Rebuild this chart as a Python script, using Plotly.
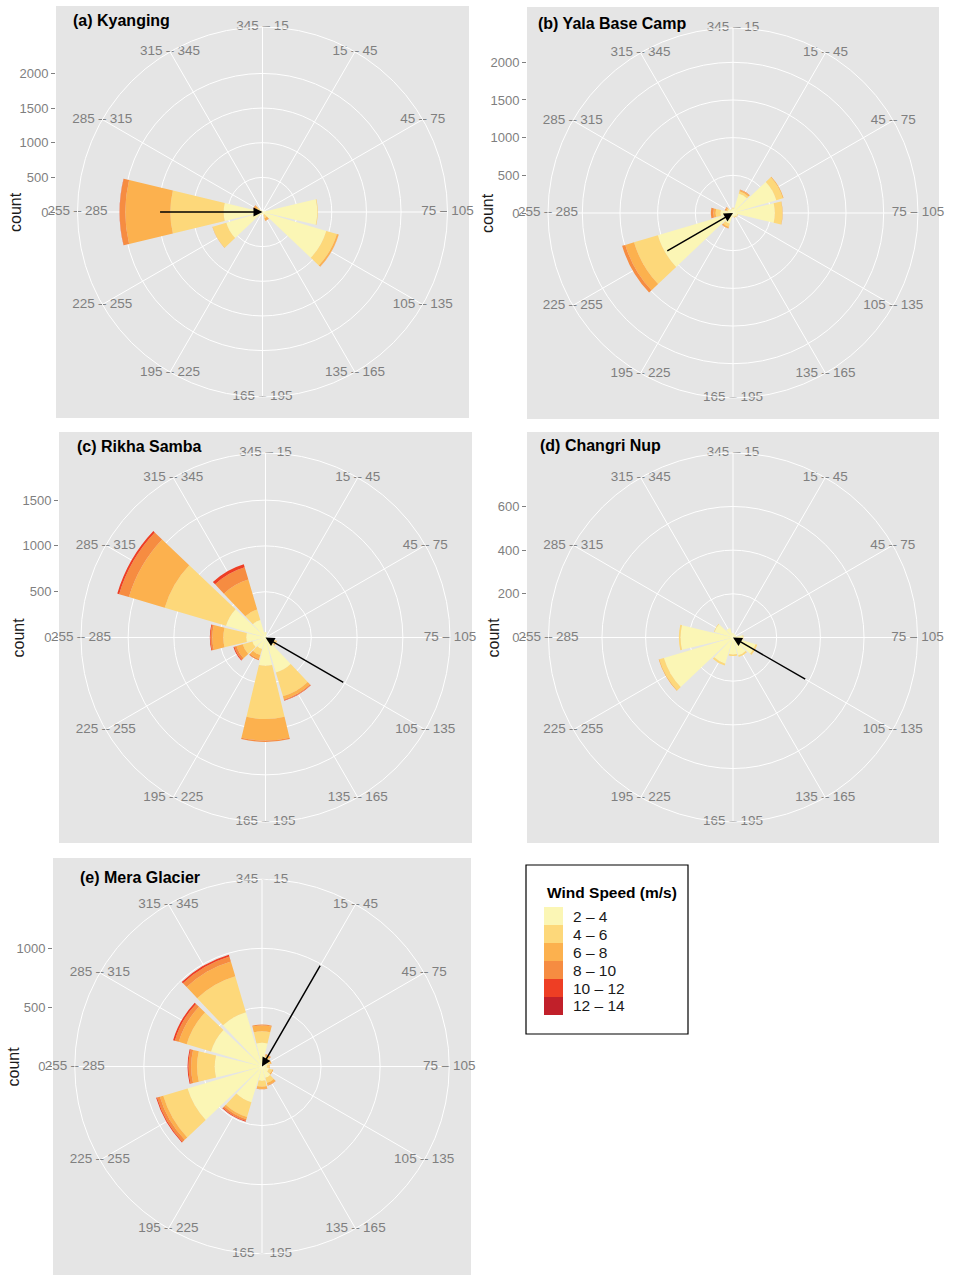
import math
import plotly.graph_objects as go

# ---- data -------------------------------------------------------------
directions = [0, 30, 60, 90, 120, 150, 180, 210, 240, 270, 300, 330]
direction_labels = ["345 – 15", "15 – 45", "45 – 75", "75 – 105", "105 – 135", "135 – 165",
                    "165 – 195", "195 – 225", "225 – 255", "255 – 285", "285 – 315", "315 – 345"]
speed_bins = ["2 – 4", "4 – 6", "6 – 8", "8 – 10", "10 – 12", "12 – 14"]
speed_colors = ["#FBF6B5", "#FDD87A", "#FCB14E", "#F68C41", "#EE3E24", "#C1202A"]

station_names = ["(a) Kyanging", "(b) Yala Base Camp", "(c) Rikha Samba",
                 "(d) Changri Nup", "(e) Mera Glacier"]

# counts per speed bin (rows) and direction sector (columns)
kyanging = [
    [15, 15, 20, 790, 960, 40, 30, 40, 545, 560, 50, 20],
    [0, 0, 0, 10, 160, 50, 0, 5, 205, 770, 40, 5],
    [0, 0, 0, 0, 25, 40, 0, 0, 5, 650, 40, 0],
    [0, 0, 0, 0, 3, 5, 0, 0, 0, 80, 10, 0],
    [0, 0, 0, 0, 0, 0, 0, 0, 0, 3, 0, 0],
    [0, 0, 0, 0, 0, 0, 0, 0, 0, 0, 0, 0],
]
yala = [
    [60, 270, 600, 555, 60, 50, 50, 150, 1040, 165, 70, 50],
    [10, 30, 90, 100, 10, 10, 5, 40, 330, 65, 20, 5],
    [0, 20, 10, 5, 0, 5, 0, 20, 120, 30, 15, 0],
    [0, 5, 0, 0, 0, 0, 0, 5, 45, 35, 10, 0],
    [0, 0, 0, 0, 0, 0, 0, 0, 0, 0, 0, 0],
    [0, 0, 0, 0, 0, 0, 0, 0, 0, 0, 0, 0],
]
rikha = [
    [60, 20, 15, 20, 80, 400, 308, 130, 150, 210, 450, 200],
    [0, 0, 0, 0, 40, 270, 582, 70, 110, 250, 698, 120],
    [0, 0, 0, 0, 10, 35, 235, 45, 70, 120, 408, 340],
    [0, 0, 0, 0, 0, 10, 15, 15, 25, 20, 111, 140],
    [0, 0, 0, 0, 0, 5, 0, 0, 10, 8, 21, 35],
    [0, 0, 0, 0, 0, 0, 0, 0, 0, 0, 0, 0],
]
changri = [
    [20, 15, 15, 45, 108, 85, 78, 125, 330, 240, 88, 45],
    [0, 0, 0, 3, 8, 8, 7, 9, 22, 8, 3, 0],
    [0, 0, 0, 0, 0, 0, 0, 0, 3, 0, 0, 0],
    [0, 0, 0, 0, 0, 0, 0, 0, 0, 0, 0, 0],
    [0, 0, 0, 0, 0, 0, 0, 0, 0, 0, 0, 0],
    [0, 0, 0, 0, 0, 0, 0, 0, 0, 0, 0, 0],
]
mera = [
    [200, 60, 50, 40, 60, 100, 120, 315, 657, 400, 450, 480],
    [98, 30, 25, 20, 30, 45, 50, 130, 215, 150, 215, 317],
    [50, 15, 10, 5, 10, 20, 20, 20, 30, 50, 70, 130],
    [7, 5, 0, 0, 0, 5, 3, 15, 25, 22, 35, 45],
    [0, 0, 0, 0, 0, 0, 0, 8, 8, 8, 15, 15],
    [0, 0, 0, 0, 0, 0, 0, 0, 0, 0, 0, 0],
]
station_counts = [kyanging, yala, rikha, changri, mera]

# mean wind vector: direction (deg) and length (count units)
arrow_dir = [270, 240, 120, 120, 30]
arrow_len = [1500, 1030, 1000, 390, 1000]

count_ticks = [[0, 500, 1000, 1500, 2000], [0, 500, 1000, 1500, 2000],
               [0, 500, 1000, 1500], [0, 200, 400, 600], [0, 500, 1000]]
r_outer = [2670, 2455, 2015, 845, 1585]

# ---- layout geometry (pixels) -----------------------------------------
W, H = 954, 1276
panels = [(56, 6, 469, 418), (527, 7, 939, 419), (59, 432, 472, 843),
          (527, 432, 939, 843), (53, 858, 471, 1275)]
title_pos = [(71, 21), (536, 23), (75, 446), (538, 445), (78, 877)]
count_title_x = [16, 487, 18, 493, 13]

FONT = "Liberation Sans, Arial, Helvetica, sans-serif"
GREY = "#7F7F7F"
PANEL_BG = "#E5E5E5"


def px(x):
    return x / W


def py(y):
    return 1 - y / H


fig = go.Figure()
layout = dict(
    width=W, height=H, margin=dict(l=0, r=0, t=0, b=0),
    paper_bgcolor="white", plot_bgcolor=PANEL_BG,
    showlegend=False, font=dict(family=FONT),
)
annotations = []
shapes = []

for i, counts in enumerate(station_counts):
    n = "" if i == 0 else str(i + 1)
    x0, y0, x1, y1 = panels[i]
    cx, cy = (x0 + x1) / 2, (y0 + y1) / 2
    R = 0.449 * min(x1 - x0, y1 - y0)
    k = R / r_outer[i]  # pixels per count

    # cartesian frame: grey panel, count axis, arrow reference
    layout[f"xaxis{n}"] = dict(
        domain=[px(x0), px(x1)], range=[-(cx - x0) / k, (x1 - cx) / k],
        visible=False, fixedrange=True, anchor=f"y{n}",
    )
    layout[f"yaxis{n}"] = dict(
        domain=[py(y1), py(y0)], range=[-(y1 - cy) / k, (cy - y0) / k],
        anchor=f"x{n}", tickmode="array", tickvals=count_ticks[i],
        ticks="outside", ticklen=4, tickcolor=GREY, tickwidth=1,
        tickfont=dict(size=13, color=GREY, family=FONT),
        showgrid=False, zeroline=False, showline=False, fixedrange=True,
    )

    # polar frame
    polar_name = f"polar{n}"
    layout[polar_name] = dict(
        domain=dict(x=[px(cx - R), px(cx + R)], y=[py(cy + R), py(cy - R)]),
        bgcolor="rgba(0,0,0,0)",
        angularaxis=dict(
            rotation=90, direction="clockwise", tickmode="array",
            tickvals=directions, showticklabels=False, ticks="",
            showgrid=True, gridcolor="white", gridwidth=1,
            showline=True, linecolor="white", linewidth=1,
        ),
        radialaxis=dict(
            range=[0, r_outer[i]], tickmode="array", tickvals=count_ticks[i][1:],
            showticklabels=False, ticks="", showline=False,
            showgrid=True, gridcolor="white", gridwidth=1,
        ),
        barmode="stack",
    )

    for j, label in enumerate(speed_bins):
        fig.add_trace(go.Barpolar(
            r=counts[j], theta=directions, width=27, name=label,
            marker=dict(color=speed_colors[j], line=dict(width=0)),
            subplot=polar_name, showlegend=False, hoverinfo="skip",
        ))

    fig.add_trace(go.Scatterpolar(
        r=[r_outer[i]] * len(directions), theta=directions, text=direction_labels,
        mode="text", textposition="middle center", cliponaxis=False,
        textfont=dict(size=13.5, color=GREY, family=FONT),
        subplot=polar_name, showlegend=False, hoverinfo="skip",
    ))

    ang = math.radians(arrow_dir[i])
    annotations.append(dict(
        x=0, y=0, xref=f"x{n}", yref=f"y{n}",
        ax=arrow_len[i] * math.sin(ang), ay=arrow_len[i] * math.cos(ang),
        axref=f"x{n}", ayref=f"y{n}", text="", showarrow=True,
        arrowhead=2, arrowsize=1.2, arrowwidth=1.5, arrowcolor="black", standoff=0,
    ))

    tx, ty = title_pos[i]
    annotations.append(dict(
        x=px(tx), y=py(ty), xref="paper", yref="paper", xanchor="left", yanchor="middle",
        text=f"<b>{station_names[i]}</b>", showarrow=False,
        font=dict(size=16, color="black", family=FONT),
    ))
    annotations.append(dict(
        x=px(count_title_x[i]), y=py(cy), xref="paper", yref="paper",
        xanchor="center", yanchor="middle", text="count", textangle=-90,
        showarrow=False, font=dict(size=16, color="#1A1A1A", family=FONT),
    ))

# ---- legend -------------------------------------------------------------
lx0, ly0, lx1, ly1 = 526, 865, 688, 1034
shapes.append(dict(type="rect", xref="paper", yref="paper",
                   x0=px(lx0), x1=px(lx1), y0=py(ly1), y1=py(ly0),
                   line=dict(color="black", width=1.2), fillcolor="white"))
annotations.append(dict(
    x=px(545), y=py(892), xref="paper", yref="paper", xanchor="left", yanchor="middle",
    text="<b>Wind Speed (m/s)</b>", showarrow=False,
    font=dict(size=15.5, color="black", family=FONT),
))
for j, label in enumerate(speed_bins):
    top = 907 + 18 * j
    shapes.append(dict(type="rect", xref="paper", yref="paper",
                       x0=px(544), x1=px(563), y0=py(top + 18), y1=py(top),
                       line=dict(width=0), fillcolor=speed_colors[j]))
    annotations.append(dict(
        x=px(571), y=py(top + 9), xref="paper", yref="paper",
        xanchor="left", yanchor="middle", text=label, showarrow=False,
        font=dict(size=15.5, color="#1A1A1A", family=FONT),
    ))

layout["annotations"] = annotations
layout["shapes"] = shapes
fig.update_layout(**layout)
fig.write_html("out.html")
